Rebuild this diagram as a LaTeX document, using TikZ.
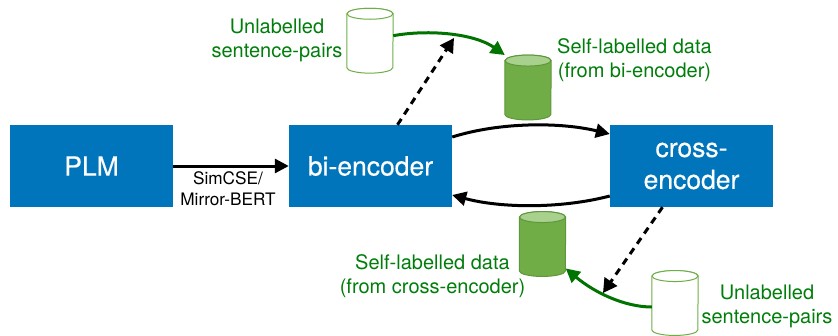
\documentclass[tikz,border=0pt]{standalone}
\usepackage{fontspec}
\setmainfont{TeX Gyre Heros}
\newfontfamily\boxfont[FakeBold=0.35]{TeX Gyre Heros}
\usetikzlibrary{arrows.meta,calc}
\definecolor{boxblue}{RGB}{0,117,188}
\definecolor{lblgreen}{RGB}{0,125,10}
\definecolor{arrgreen}{RGB}{0,115,0}
\definecolor{cylfill}{RGB}{112,173,71}
\definecolor{cyltop}{RGB}{169,209,142}
\definecolor{cylline}{RGB}{96,150,60}
\newcommand{\cylshape}[4]{%
  \filldraw[fill=#2,draw=#4,line width=1pt]
    ($(#1.north west)+(0,5.5)$) -- ($(#1.south west)+(0,-5.5)$)
    arc[start angle=180,end angle=360,x radius=23pt,y radius=5.5pt]
    -- ($(#1.north east)+(0,5.5)$)
    arc[start angle=0,end angle=180,x radius=23pt,y radius=5.5pt] -- cycle;
  \filldraw[fill=#3,draw=#4,line width=1pt]
    ($(#1.north)+(0,5.5)$) ellipse[x radius=23pt,y radius=5.5pt];
}
\tikzset{
  bluebox/.style={fill=boxblue,text=white,minimum width=163pt,minimum height=82pt,inner sep=0pt,align=center,font=\boxfont\fontsize{26.5}{32}\selectfont},
  cylframe/.style={minimum width=46pt,minimum height=64.5pt,inner sep=0pt},
  greenlbl/.style={text=lblgreen,align=center,inner sep=0pt,font=\fontsize{20}{24}\selectfont},
  blackarrow/.style={draw=black,line width=3pt,-{Triangle[length=14pt,width=14pt]}},
  dasharrow/.style={draw=black,line width=3pt,dash pattern=on 7pt off 5.5pt,-{Triangle[length=14pt,width=15pt]}},
  greenarrow/.style={draw=arrgreen,line width=3pt,-{Triangle[length=14pt,width=14pt]}},
}
\begin{document}
\begin{tikzpicture}[x=1pt,y=-1pt]
\useasboundingbox (0,0) rectangle (838,335);
\node[bluebox] (plm) at (91.5,166) {PLM};
\node[bluebox] (bi) at (370.5,166) {bi-encoder};
\node[bluebox] (cross) at (691.5,166) {cross-\\encoder};
\node[cylframe] (u1) at (370,40.7) {};
\node[cylframe] (s1) at (528,87.5) {};
\node[cylframe] (s2) at (542.5,244) {};
\node[cylframe] (u2) at (675,303) {};
\cylshape{u1}{white}{white}{cylfill}
\cylshape{s1}{cylfill}{cyltop}{cylline}
\cylshape{s2}{cylfill}{cyltop}{cylline}
\cylshape{u2}{white}{white}{cylfill}
\node[greenlbl] (u1t) at (277,40) {Unlabelled\\sentence-pairs};
\node[greenlbl] (s1t) at (634.5,60.5) {Self-labelled data\\(from bi-encoder)};
\node[greenlbl] (s2t) at (432.5,276) {Self-labelled data\\(from cross-encoder)};
\node[greenlbl] (u2t) at (767,306) {Unlabelled\\sentence-pairs};
\node[inner sep=0pt,align=center,font=\fontsize{17.2}{21}\selectfont] (sim) at (228,188.5) {SimCSE/\\Mirror-BERT};
\coordinate (d1) at (454,38);
\coordinate (d2) at (603,293);
\draw[blackarrow] (plm.east) -- (bi.west);
\draw[blackarrow] ($(bi.east)+(0,-29)$) .. controls (500,122) and (560,122) .. ($(cross.west)+(0,-32)$);
\draw[blackarrow] ($(cross.west)+(0,30)$) .. controls (560,209) and (500,208) .. ($(bi.east)+(0,29)$);
\draw[greenarrow] (u1.east) ++(0,-5) .. controls (430,29) and (475,34) .. (s1.north west);
\draw[greenarrow] (u2.west) ++(0,4) .. controls (625,307) and (595,293) .. ($(s2.south east)+(0,-8)$);
\draw[dasharrow] ($(bi.north)+(27,0)$) -- (d1);
\draw[dasharrow] ($(cross.south)+(-29,0)$) -- (d2);
\end{tikzpicture}
\end{document}
